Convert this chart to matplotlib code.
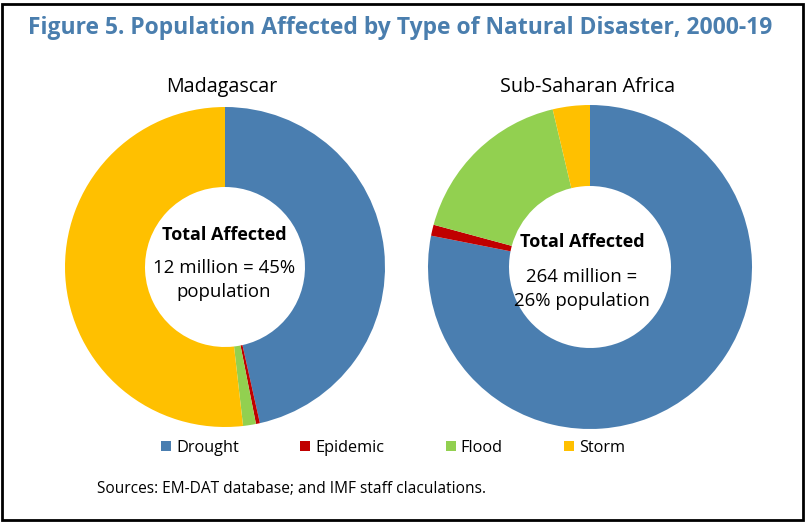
import matplotlib.pyplot as plt
from matplotlib.patches import Rectangle

# data (shares of population affected, %)
types = ["Drought", "Epidemic", "Flood", "Storm"]
colors = ["#4A7EB0", "#C00000", "#92D050", "#FFC000"]
madagascar = [46.5, 0.4, 1.3, 51.8]
ssa = [78.1, 1.1, 17.1, 3.7]

plt.rcParams['font.family'] = ['Open Sans', 'DejaVu Sans']

fig = plt.figure(figsize=(8.05, 5.23), dpi=100)
fig.patch.set_facecolor("white")

# border
fig.add_artist(Rectangle((0.003, 0.005), 0.994, 0.988, transform=fig.transFigure,
                         fill=False, edgecolor="black", linewidth=2))

fig.text(28 / 805, 1 - 28 / 523, "Figure 5. Population Affected by Type of Natural Disaster, 2000-19",
         fontsize=16.5, fontweight="bold", color="#4A7EAE", ha="left", va="center")

ax1 = fig.add_axes([65 / 805, 1 - 427 / 523, 320 / 805, 320 / 523])
ax2 = fig.add_axes([428 / 805, 1 - 429 / 523, 324 / 805, 324 / 523])

wedges, _ = ax1.pie(madagascar, colors=colors, startangle=90, counterclock=False,
                    radius=1, wedgeprops=dict(width=0.5, edgecolor="none"))
ax2.pie(ssa, colors=colors, startangle=90, counterclock=False,
        radius=1, wedgeprops=dict(width=0.5, edgecolor="none"))

for ax in (ax1, ax2):
    ax.set_xlim(-1, 1)
    ax.set_ylim(-1, 1)
    ax.set_aspect("equal")
    ax.axis("off")

fig.text(222 / 805, 1 - 87 / 523, "Madagascar", fontsize=14.2, ha="center", va="center")
fig.text(588 / 805, 1 - 87 / 523, "Sub-Saharan Africa", fontsize=14.2, ha="center", va="center")

fig.text(224 / 805, 1 - 235 / 523, "Total Affected", fontsize=13, fontweight="bold", ha="center", va="center")
fig.text(224 / 805, 1 - 268 / 523, "12 million = 45%", fontsize=13.4, ha="center", va="center")
fig.text(224 / 805, 1 - 292 / 523, "population", fontsize=13.4, ha="center", va="center")

fig.text(582 / 805, 1 - 242 / 523, "Total Affected", fontsize=13, fontweight="bold", ha="center", va="center")
fig.text(582 / 805, 1 - 277 / 523, "264 million =", fontsize=13.4, ha="center", va="center")
fig.text(582 / 805, 1 - 301 / 523, "26% population", fontsize=13.4, ha="center", va="center")

fig.legend(wedges, types, loc="center", bbox_to_anchor=(393 / 805, 1 - 448 / 523), ncol=4,
           frameon=False, fontsize=11.7, handlelength=0.6, handleheight=0.6, handletextpad=0.3,
           columnspacing=3.8)

fig.text(97 / 805, 1 - 489 / 523, "Sources: EM-DAT database; and IMF staff claculations.",
         fontsize=11.2, ha="left", va="center")

fig.savefig("out.png", dpi=100)
